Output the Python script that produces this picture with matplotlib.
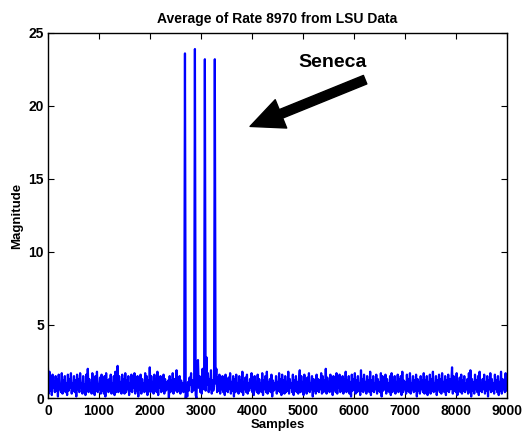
import numpy as np
import matplotlib
matplotlib.use("Agg")
import matplotlib.pyplot as plt

plt.rcParams['font.family'] = ['Liberation Sans', 'DejaVu Sans']
plt.rcParams['font.weight'] = 'bold'

# Magnitude samples, every 15th sample (rows of 150 samples)
step = 15
magnitude = [
    2.0,0.3,1.8,0.5,1.2,0.2,1.6,0.7,1.1,0.4,
    1.5,0.5,1.3,0.1,1.6,0.6,0.9,0.4,1.7,0.3,
    1.2,0.6,1.5,0.4,1.0,0.2,1.6,0.5,1.3,0.7,
    1.7,0.3,1.0,0.5,1.5,0.4,1.2,0.1,1.6,0.6,
    1.3,0.4,1.7,0.7,1.0,0.3,1.5,0.5,0.9,0.2,
    1.6,0.5,2.0,0.4,1.3,0.6,1.0,0.3,1.7,0.4,
    1.2,0.2,1.5,0.5,1.8,0.4,0.9,0.6,1.4,0.3,
    1.6,0.5,1.1,0.3,1.5,0.1,1.7,0.6,1.2,0.4,
    1.3,0.7,1.6,0.3,1.0,0.5,1.5,0.2,1.8,0.4,
    1.2,2.2,0.4,1.5,0.5,1.1,0.3,1.6,0.6,1.3,
    0.3,1.7,0.4,1.2,0.6,1.5,0.2,1.0,0.5,1.6,
    0.4,1.3,0.7,1.7,0.3,1.1,0.5,1.5,0.1,1.2,
    0.6,1.6,0.3,1.3,0.5,1.0,0.4,1.7,0.5,1.5,
    0.2,1.2,0.5,2.1,0.4,1.5,0.6,1.1,0.3,1.6,
    0.5,1.3,0.4,1.8,0.2,1.2,0.7,1.5,0.4,1.0,
    0.5,1.6,0.3,1.3,0.5,1.1,0.6,1.2,0.0,1.5,
    0.4,1.2,0.6,1.7,0.3,1.3,0.5,1.1,1.9,0.4,
    1.4,0.5,1.5,0.3,1.2,0.6,1.0,0.4,0.9,23.6,
    0.0,0.8,0.1,1.1,0.5,1.4,0.9,1.7,0.4,1.2,
    0.5,1.0,23.9,0.2,0.0,1.8,2.6,0.7,1.5,0.4,
    1.3,0.3,2.0,0.6,1.1,23.2,0.5,2.8,0.9,1.7,
    0.4,1.3,0.6,1.9,0.3,1.2,0.5,0.8,23.2,1.0,
    2.0,0.4,1.4,0.5,1.6,0.3,1.1,0.6,1.5,0.4,
    1.2,0.2,1.6,0.5,1.0,0.4,1.4,0.6,1.7,0.3,
    1.1,0.5,1.5,0.1,1.3,0.4,1.6,0.7,1.0,0.3,
    1.5,0.5,1.2,0.4,1.8,0.2,1.1,0.6,1.4,0.4,
    1.6,0.3,1.0,0.5,1.3,0.7,1.7,0.4,1.2,0.2,
    1.5,0.6,1.1,0.4,1.6,0.3,1.3,0.5,1.0,0.4,
    1.7,0.2,1.2,0.6,1.5,0.4,1.8,0.3,1.1,0.5,
    1.3,0.4,1.6,0.1,1.2,0.5,1.0,0.6,1.5,0.3,
    1.1,0.5,1.7,0.4,1.3,0.2,1.6,0.6,1.2,0.3,
    1.5,0.4,1.1,0.5,1.8,0.3,1.3,0.7,1.0,0.4,
    1.6,0.2,1.2,0.5,1.5,0.4,1.1,0.3,1.3,1.9,
    0.4,1.5,0.5,1.1,0.2,1.6,0.6,1.2,0.3,1.4,
    0.5,1.7,0.4,1.0,0.6,1.5,0.1,1.3,0.5,1.1,
    0.3,1.6,0.5,1.3,0.4,1.2,0.6,1.7,0.3,1.5,
    0.4,1.2,0.5,2.0,0.3,1.4,0.6,1.1,0.4,1.6,
    0.5,1.3,0.2,1.5,0.6,1.0,0.4,1.7,0.3,1.2,
    0.7,1.6,0.4,1.1,0.5,1.5,0.3,1.3,0.6,1.8,
    0.4,1.2,0.5,1.5,0.3,1.1,0.1,1.6,0.5,1.3,
    0.6,1.7,0.3,1.2,0.4,1.5,0.5,1.0,0.2,1.9,
    0.5,1.3,0.4,1.6,0.6,1.1,0.3,1.5,0.5,1.2,
    0.4,1.8,0.2,1.2,0.5,1.5,0.4,1.0,0.6,1.6,
    0.3,1.3,0.5,1.1,0.4,1.7,0.1,1.5,0.5,1.2,
    0.6,1.6,0.3,1.3,0.5,1.0,0.4,1.5,0.2,1.7,
    0.4,1.2,0.6,1.5,0.3,1.1,0.5,1.6,0.4,1.3,
    0.5,1.5,0.2,1.8,0.4,1.2,0.6,1.1,0.3,1.6,
    0.5,1.3,0.4,1.7,0.3,1.0,0.6,1.5,0.4,1.2,
    0.5,1.6,0.1,1.3,0.5,1.1,0.3,1.5,0.6,1.2,
    0.4,1.7,0.3,1.2,0.5,1.5,0.2,1.1,0.6,1.6,
    0.3,1.3,0.5,1.8,0.4,1.0,0.5,1.5,0.2,1.2,
    0.6,1.6,0.4,1.3,0.3,1.7,0.5,1.1,0.4,1.5,
    0.2,1.2,0.5,1.6,0.4,1.3,0.6,1.1,2.1,0.3,
    1.5,0.5,1.2,0.4,1.7,0.2,1.1,0.6,1.4,0.4,
    1.6,0.3,1.2,0.5,1.5,0.4,1.0,0.6,1.3,0.3,
    1.7,0.4,1.9,0.1,1.3,0.5,1.1,0.3,1.6,0.6,
    1.2,0.4,1.5,0.2,1.8,0.5,1.0,0.4,1.3,0.6,
    1.6,0.3,1.1,0.5,1.5,0.1,1.2,0.6,1.7,0.4,
    1.3,0.5,1.0,0.3,1.6,0.6,1.2,0.4,1.5,0.2,
    1.1,0.5,1.8,0.3,1.3,0.6,1.2,0.4,1.7,0.5,
]
samples = np.arange(len(magnitude)) * step

x_ticks = [0, 1000, 2000, 3000, 4000, 5000, 6000, 7000, 8000, 9000]
y_ticks = [0, 5, 10, 15, 20, 25]

title = "Average of Rate 8970 from LSU Data"
annotation = "Seneca"
arrow_tip = (3961, 18.6)
arrow_tail = (6216, 21.8)
text_pos = (5578, 22.95)

fig = plt.figure(figsize=(5.29, 4.32), dpi=100)
ax = fig.add_axes([0.0907, 0.0787, 0.868, 0.845])
ax.plot(samples, magnitude, color='#0000ff', lw=1.6)
ax.set_xlim(0, 9000)
ax.set_ylim(0, 25)
ax.set_xticks(x_ticks)
ax.set_yticks(y_ticks)
ax.tick_params(axis='x', direction='in', length=4, width=0.8, top=True,
               labelsize=10, pad=4)
ax.tick_params(axis='y', direction='in', length=4, width=0.8, right=True,
               labelsize=10, pad=3)
for lab in ax.get_xticklabels() + ax.get_yticklabels():
    lab.set_fontweight('bold')
for s in ax.spines.values():
    s.set_linewidth(1.0)
ax.set_title(title, fontsize=10, fontweight='bold', pad=7)
ax.set_xlabel("Samples", fontsize=9.5, fontweight='bold', labelpad=1)
ax.set_ylabel("Magnitude", fontsize=9.5, fontweight='bold', labelpad=4)

ax.annotate('', xy=arrow_tip, xytext=arrow_tail,
            arrowprops=dict(arrowstyle='simple,head_length=1.2,head_width=1.1,tail_width=0.33',
                            color='black', shrinkA=0, shrinkB=0, mutation_scale=20))
ax.text(*text_pos, annotation, fontsize=14, fontweight='bold', ha='center', va='center')

fig.savefig('out.png', dpi=100)
